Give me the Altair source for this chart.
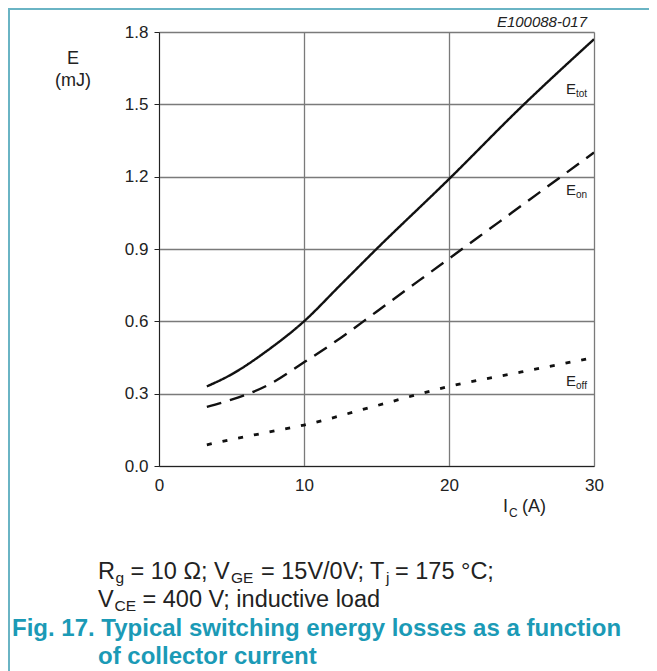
import altair as alt
import pandas as pd

# ---- data ----
ic_tot = [3.3, 5, 7.5, 10, 12.5, 15, 20, 25, 30]
e_tot = [0.33, 0.38, 0.48, 0.60, 0.75, 0.90, 1.19, 1.49, 1.77]

ic_on = [3.3, 5, 7.5, 10, 12.5, 15, 20, 25, 30]
e_on = [0.245, 0.275, 0.335, 0.43, 0.53, 0.64, 0.86, 1.08, 1.30]

ic_off = [3.3, 5, 7.5, 10, 15, 20, 25, 30]
e_off = [0.088, 0.11, 0.14, 0.17, 0.25, 0.33, 0.39, 0.45]

x_ticks = [0, 10, 20, 30]
y_ticks = [0.0, 0.3, 0.6, 0.9, 1.2, 1.5, 1.8]

FONT = "Liberation Sans"
TEAL = "#1b9ab6"
BORDER = "#6ab4c4"
INK = "#222222"

rows = []
for x, y in zip(ic_tot, e_tot):
    rows.append({"ic": x, "e": y, "s": "tot"})
for x, y in zip(ic_on, e_on):
    rows.append({"ic": x, "e": y, "s": "on"})
for x, y in zip(ic_off, e_off):
    rows.append({"ic": x, "e": y, "s": "off"})
df = pd.DataFrame(rows)

W, H = 435, 434

xs = alt.Scale(domain=[0, 30], nice=False, zero=False)
ys = alt.Scale(domain=[0, 1.8], nice=False)

base = alt.Chart(df)


def curve(series, dash, width):
    return base.transform_filter(alt.datum.s == series).mark_line(
        color="#111111", strokeWidth=width, strokeDash=dash, clip=True,
        interpolate="monotone",
    ).encode(
        x=alt.X("ic:Q", scale=xs,
                axis=alt.Axis(values=x_ticks, title=None, grid=True, gridColor="#7a7a7a",
                              gridWidth=1.3, ticks=False, domain=True, domainColor=INK,
                              labelFont=FONT, labelFontSize=17, labelColor=INK,
                              labelPadding=11, labelFlush=False)),
        y=alt.Y("e:Q", scale=ys,
                axis=alt.Axis(values=y_ticks, format=".1f", title=None, grid=True,
                              gridColor="#7a7a7a", gridWidth=1.3, ticks=True, tickSize=5,
                              tickColor=INK, domain=True, domainColor=INK,
                              labelFont=FONT, labelFontSize=17, labelColor=INK,
                              labelPadding=6, labelFlush=False)),
        order="ic:Q",
    )


l_tot = curve("tot", [1, 0], 2.4)
l_on = curve("on", [15, 9], 2.4)
l_off = curve("off", [5, 11], 2.8)

# annotation texts: (text, x, y, size, align, style, weight, color)
ann = [
    ("E100088-017", 428, -5, 15, "right", "italic", "normal", INK),
    ("E", -86, 32, 18, "center", "normal", "normal", INK),
    ("(mJ)", -86, 54, 18, "center", "normal", "normal", INK),
    ("I", 344, 480, 18, "left", "normal", "normal", INK),
    ("C", 350, 485, 12, "left", "normal", "normal", INK),
    ("(A)", 363, 480, 18, "left", "normal", "normal", INK),
    ("E", 407, 62, 15, "left", "normal", "normal", INK),
    ("tot", 417, 65, 10, "left", "normal", "normal", INK),
    ("E", 407, 163, 15, "left", "normal", "normal", INK),
    ("on", 417, 166, 10, "left", "normal", "normal", INK),
    ("E", 407, 354, 15, "left", "normal", "normal", INK),
    ("off", 417, 357, 10, "left", "normal", "normal", INK),
    # conditions text
    ("R", -61, 547, 23.5, "left", "normal", "normal", INK),
    ("g", -43.5, 551, 15.5, "left", "normal", "normal", INK),
    ("= 10 Ω; V", -28.5, 547, 23.5, "left", "normal", "normal", INK),
    ("GE", 72, 551, 15.5, "left", "normal", "normal", INK),
    ("= 15V/0V; T", 102, 547, 23.5, "left", "normal", "normal", INK),
    ("j", 227, 551, 15.5, "left", "normal", "normal", INK),
    ("= 175 °C;", 236, 547, 23.5, "left", "normal", "normal", INK),
    ("V", -61, 575, 23.5, "left", "normal", "normal", INK),
    ("CE", -44.5, 579, 15.5, "left", "normal", "normal", INK),
    ("= 400 V; inductive load", -16.5, 575, 23.5, "left", "normal", "normal", INK),
    # caption
    ("Fig. 17. Typical switching energy losses as a function", -147, 604, 24, "left", "normal", "bold", TEAL),
    ("of collector current", -61, 632, 24, "left", "normal", "bold", TEAL),
]

texts = []
for t, x, y, size, align, style, weight, color in ann:
    texts.append(
        alt.Chart(pd.DataFrame({"t": [t]})).mark_text(
            font=FONT, fontSize=size, align=align, baseline="alphabetic",
            fontStyle=style, fontWeight=weight, color=color, clip=False,
        ).encode(text="t:N", x=alt.value(x), y=alt.value(y))
    )

# page frame lines (teal), at the svg edge
frame_top = alt.Chart(pd.DataFrame({"a": [0]})).mark_rule(
    color=BORDER, strokeWidth=2, clip=False
).encode(x=alt.value(-151), x2=alt.value(W + 55), y=alt.value(-23))
frame_left = alt.Chart(pd.DataFrame({"a": [0]})).mark_rule(
    color=BORDER, strokeWidth=2, clip=False
).encode(x=alt.value(-150), y=alt.value(-24), y2=alt.value(H + 205))

chart = alt.layer(l_tot, l_on, l_off, *texts, frame_top, frame_left).properties(
    width=W, height=H,
    padding={"left": 151, "top": 24, "right": 55, "bottom": 205},
    autosize=alt.AutoSizeParams(type="none"),
).configure_view(stroke=INK, strokeWidth=1.3).configure(background="white")

chart.save("out.html", embed_options={"renderer": "svg", "actions": False})
